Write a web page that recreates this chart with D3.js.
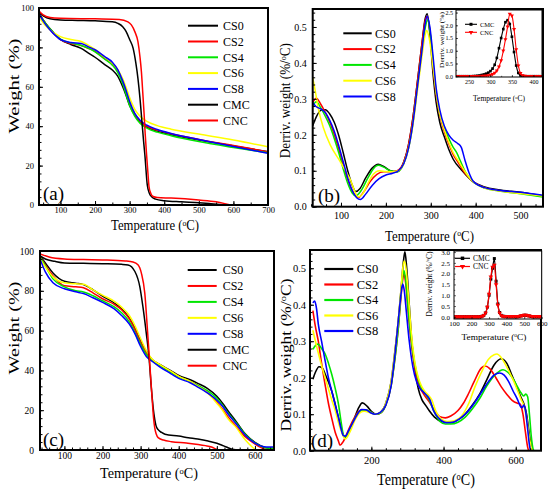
<!DOCTYPE html>
<html><head><meta charset="utf-8">
<script src="https://cdn.jsdelivr.net/npm/d3@7"></script>
<style>body{margin:0;background:#fff}svg{display:block}text{font-family:"Liberation Serif",serif}</style>
</head><body><svg id="c" width="550" height="493"></svg>
<script>
// ---------------- DATA ----------------
const names5 = ["CS0","CS2","CS4","CS6","CS8"];
const names7 = ["CS0","CS2","CS4","CS6","CS8","CMC","CNC"];
const insetNames = ["CMC","CNC"];
const colors7 = ["#000000","#ff0000","#00e600","#ffff00","#0000ff","#000000","#ff0000"];

// (a) TGA  [temperature, weight %]
const a_CS0=[[38,97],[50,94],[60,91.5],[80,87.5],[100,84],[130,81.5],[160,79.5],[180,77.2],[200,75],[228,71.3],[250,68.5],[265,65.5],[280,60],[290,55.5],[300,50.5],[315,45.5],[330,42],[350,39.5],[380,37.5],[420,35.7],[500,33],[600,30],[700,27]];
const a_CS2=[[38,97.5],[50,94],[60,91.5],[80,87],[100,84],[130,82],[160,81],[180,79.6],[200,78],[228,74.3],[250,71.5],[265,68.5],[280,62.5],[290,57],[300,51.5],[315,46],[330,42.5],[350,40],[380,38],[420,36.2],[500,33.3],[600,30.2],[700,27]];
const a_CS4=[[38,97],[50,94],[60,91.5],[80,87.5],[100,84.2],[130,82.3],[160,81],[180,79.6],[200,77.7],[228,74],[250,71],[265,67.5],[280,61.5],[290,56],[300,50.5],[315,45],[330,41.5],[350,39],[380,37],[420,35.2],[500,32.2],[600,29.2],[700,26.5]];
const a_CS6=[[38,95.5],[50,92.5],[60,90.5],[80,87.5],[100,85.5],[130,84],[160,83],[180,81.2],[200,79],[228,75],[250,72],[265,69],[280,64],[290,59.5],[300,54.5],[315,48.5],[330,45],[350,42.5],[380,40.3],[420,38.5],[500,36],[600,33],[700,29.5]];
const a_CS8=[[38,97],[50,93.5],[60,91],[80,87],[100,84],[130,82.5],[160,82],[180,80.4],[200,78.8],[228,75.3],[250,72.5],[266,68.6],[280,63],[290,58],[300,52.5],[315,46.5],[330,43],[350,40.5],[380,38.3],[420,36.3],[500,33.3],[600,29.7],[700,26.2]];
const a_CMC=[[38,97.5],[50,96],[70,94.5],[100,93.9],[150,93.7],[200,93.5],[250,93],[266,92.2],[280,90.5],[290,88],[300,84],[310,79.6],[318,72],[324,64.3],[330,54],[334,45.7],[340,33],[344,25.5],[351,10.2],[357,6],[363,4.3],[375,3],[400,2.2],[450,1.6],[500,1.1],[530,0.7],[560,0.2],[580,0]];
const a_CNC=[[38,98.5],[50,96.5],[70,95.2],[100,94.8],[200,94.5],[270,94.2],[295,93],[305,91.4],[315,88],[324,82.9],[330,75],[334,67.7],[338,57],[342,45.7],[345,36],[349,25.5],[353,16],[356,9.4],[361,6],[368,4.3],[380,3.8],[420,3.5],[500,2.5],[550,1.6],[575,0.7],[592,0]];

// (b) DTG  [temperature, deriv. weight]
const b_CS0=[[37,0.225],[45,0.25],[55,0.268],[65,0.27],[75,0.258],[85,0.235],[95,0.198],[105,0.15],[115,0.1],[125,0.06],[133,0.042],[142,0.05],[155,0.08],[170,0.108],[183,0.118],[195,0.112],[210,0.1],[225,0.097],[240,0.125],[250,0.17],[260,0.245],[270,0.345],[280,0.45],[287,0.52],[292,0.537],[298,0.48],[305,0.37],[312,0.29],[320,0.235],[330,0.195],[340,0.16],[350,0.132],[370,0.1],[392,0.072],[420,0.055],[450,0.047],[500,0.04],[550,0.03]];
const b_CS2=[[37,0.29],[45,0.302],[55,0.285],[65,0.262],[75,0.235],[85,0.2],[95,0.16],[105,0.115],[115,0.075],[125,0.045],[138,0.025],[150,0.04],[165,0.07],[180,0.09],[195,0.097],[210,0.097],[225,0.1],[240,0.125],[250,0.17],[260,0.245],[270,0.345],[280,0.45],[287,0.515],[292,0.53],[298,0.49],[305,0.39],[312,0.31],[320,0.255],[330,0.21],[340,0.175],[350,0.145],[360,0.125],[375,0.095],[392,0.072],[420,0.053],[450,0.045],[500,0.038],[550,0.03]];
const b_CS4=[[37,0.28],[45,0.292],[55,0.275],[65,0.252],[75,0.225],[85,0.19],[95,0.15],[105,0.105],[115,0.065],[125,0.038],[133,0.03],[145,0.045],[160,0.08],[172,0.105],[183,0.115],[195,0.11],[210,0.1],[225,0.097],[240,0.12],[250,0.16],[260,0.23],[270,0.33],[280,0.43],[288,0.5],[293,0.52],[299,0.48],[306,0.39],[313,0.31],[320,0.26],[330,0.22],[340,0.19],[350,0.165],[358,0.15],[365,0.13],[378,0.095],[392,0.072],[420,0.052],[450,0.044],[500,0.036],[550,0.027]];
const b_CS6=[[37,0.36],[43,0.32],[50,0.27],[61,0.219],[76,0.172],[98,0.126],[110,0.1],[121,0.075],[130,0.045],[138,0.027],[148,0.035],[160,0.065],[172,0.09],[185,0.1],[200,0.098],[215,0.097],[228,0.1],[240,0.12],[250,0.16],[260,0.225],[270,0.32],[280,0.415],[287,0.475],[291,0.49],[297,0.465],[305,0.39],[312,0.32],[320,0.26],[330,0.215],[340,0.18],[350,0.15],[360,0.13],[375,0.1],[392,0.072],[420,0.052],[450,0.044],[500,0.037],[550,0.03]];
const b_CS8=[[37,0.29],[45,0.278],[55,0.272],[65,0.262],[75,0.24],[85,0.21],[95,0.17],[105,0.125],[115,0.08],[125,0.045],[135,0.025],[143,0.02],[155,0.035],[170,0.06],[185,0.078],[200,0.088],[215,0.093],[228,0.1],[240,0.12],[250,0.16],[260,0.23],[270,0.33],[280,0.43],[287,0.505],[292,0.53],[298,0.5],[305,0.42],[312,0.33],[320,0.27],[330,0.225],[340,0.2],[350,0.185],[360,0.176],[368,0.165],[376,0.13],[385,0.095],[395,0.07],[420,0.053],[450,0.046],[500,0.04],[550,0.032]];

// (b) inset: temperatures and values
const bi_T=[220,225,230,235,240,245,250,255,260,265,270,275,280,285,290,295,300,305,310,315,320,325,330,335,340,345,350,355,360,365,370,375,380,385,390,395,400,405,410,415,420];
const bi_CMC=[0,0,0,0,0,0,0,0,0.005,0.01,0.02,0.03,0.05,0.07,0.1,0.14,0.2,0.3,0.45,0.72,1.1,1.5,1.85,2.12,2.2,2.05,1.55,0.95,0.42,0.13,0.03,0.01,0,0,0,0,0,0,0,0,0];
const bi_CNC=[0,0,0,0,0,0,0,0,0,0,0,0,0.01,0.015,0.02,0.03,0.05,0.08,0.13,0.22,0.38,0.62,1.0,1.45,1.95,2.45,2.38,1.85,1.05,0.42,0.12,0.03,0.01,0,0,0,0,0,0,0,0];

// (c) TGA
const c_CS0=[[36,97.5],[50,94],[70,89],[100,84.8],[130,83.8],[150,83.1],[175,80.5],[200,77.3],[230,74],[250,71],[270,66.5],[285,61.5],[300,55],[315,49.5],[330,45.5],[350,43],[380,39.8],[400,37.5],[430,35.3],[450,33.5],[475,31],[500,27],[515,23.5],[530,19.5],[550,14.5],[575,8],[600,3.8],[625,1.4],[640,0.8],[650,0.7]];
const c_CS2=[[36,97.5],[50,93],[70,87.5],[100,82.5],[130,82],[150,81.5],[175,79],[200,76],[230,73.3],[250,70.5],[270,66],[285,60.5],[300,54],[315,49],[330,45.3],[350,42.8],[380,39.3],[400,37],[430,34.5],[450,32.5],[475,29],[500,24],[515,20.5],[530,16.5],[550,12],[575,6.5],[600,3],[615,1.3],[628,0.3],[640,0],[650,0]];
const c_CS4=[[36,97],[50,92.5],[70,86],[100,82],[130,80],[150,79.4],[175,77.5],[200,75],[230,72],[250,69],[270,64.5],[285,59],[300,53],[315,48],[330,45],[350,42.5],[380,39],[400,36.8],[430,34.5],[450,32.5],[475,29.8],[500,26],[515,22.5],[530,18.5],[550,13.8],[575,7.8],[600,3.6],[625,1.3],[640,0.9],[650,0.9]];
const c_CS6=[[36,96],[50,92],[70,87],[100,84],[130,83.5],[150,83.3],[175,80.5],[200,77.8],[230,74.8],[250,71.8],[270,67.7],[285,62.5],[300,56],[315,50],[330,45.7],[350,43],[380,39.5],[400,37],[430,34.5],[450,32],[475,28.8],[500,23.5],[515,20],[530,15.5],[550,11.5],[575,5],[590,2],[602,0.2],[610,0]];
const c_CS8=[[36,96],[50,89.5],[70,84],[100,81],[130,79.5],[150,78.6],[175,76.5],[200,74.2],[230,71],[250,67.6],[270,63.4],[285,58.5],[300,52],[315,47],[330,44.6],[350,41.8],[380,38.3],[400,36],[430,33.8],[450,31.6],[475,28.7],[500,25],[515,22],[530,18],[550,13.3],[575,7.3],[600,3.5],[620,1.8],[635,1.5],[650,1.5]];
const c_CMC=[[36,97.5],[50,96],[75,94.8],[100,94],[150,93.8],[200,93.6],[250,93.3],[267,93],[285,89.7],[298,82],[306,72],[315,58.5],[322,46.7],[328,31.5],[335,18],[340,12.5],[346,10.2],[355,8.8],[364,7.9],[400,7],[425,6.2],[450,5.5],[477,4.5],[500,3.4],[512,2.5],[525,1.5],[538,0.5],[550,0.1],[565,0]];
const c_CNC=[[36,98.5],[60,97],[100,96],[150,95.7],[200,95.5],[260,95],[280,94.5],[293,93.1],[302,88.9],[311,78.7],[318,60.2],[324,43.3],[330,26.4],[334,16],[337,11.2],[341,8],[346,6.2],[360,5],[381,4.2],[420,3.5],[451,2.8],[470,2.2],[486,1.5],[495,0.7],[502,0]];

// (d) DTG
const d_CS0=[[38,0.196],[45,0.215],[55,0.23],[63,0.228],[72,0.21],[90,0.164],[109,0.09],[118,0.055],[125,0.038],[135,0.045],[150,0.08],[165,0.118],[175,0.131],[188,0.122],[200,0.108],[212,0.1],[225,0.105],[240,0.13],[255,0.19],[265,0.27],[275,0.36],[283,0.45],[289,0.52],[293,0.545],[298,0.5],[305,0.4],[312,0.3],[320,0.23],[330,0.17],[340,0.14],[350,0.125],[360,0.11],[375,0.092],[395,0.08],[420,0.077],[440,0.085],[460,0.1],[480,0.125],[500,0.155],[520,0.195],[540,0.235],[560,0.252],[575,0.24],[590,0.205],[605,0.17],[615,0.145],[622,0.13],[630,0.1],[637,0.05],[645,0.005],[648,0]];
const d_CS2=[[38,0.384],[45,0.34],[53,0.3],[62,0.24],[72,0.18],[81,0.13],[90,0.09],[100,0.05],[109,0.026],[113,0.015],[122,0.025],[137,0.058],[150,0.085],[165,0.108],[175,0.112],[190,0.11],[205,0.102],[215,0.1],[228,0.105],[240,0.125],[255,0.18],[265,0.25],[275,0.34],[282,0.42],[287,0.47],[290,0.485],[295,0.46],[302,0.38],[310,0.3],[320,0.23],[330,0.185],[340,0.163],[350,0.148],[360,0.135],[375,0.11],[390,0.093],[405,0.09],[420,0.095],[440,0.11],[455,0.13],[468,0.154],[485,0.19],[505,0.227],[515,0.232],[528,0.225],[545,0.2],[560,0.175],[575,0.155],[590,0.138],[605,0.13],[612,0.128],[620,0.1],[627,0.05],[633,0.01],[636,0]];
const d_CS4=[[38,0.278],[45,0.288],[52,0.292],[62,0.28],[72,0.265],[81,0.24],[90,0.21],[100,0.17],[109,0.127],[116,0.08],[122,0.045],[127,0.037],[137,0.05],[150,0.08],[165,0.105],[177,0.112],[190,0.11],[205,0.102],[215,0.1],[228,0.105],[240,0.125],[255,0.18],[265,0.25],[275,0.34],[282,0.43],[287,0.48],[290,0.494],[295,0.47],[302,0.39],[310,0.31],[320,0.24],[330,0.195],[340,0.17],[350,0.155],[360,0.14],[375,0.105],[390,0.08],[405,0.073],[420,0.073],[440,0.078],[460,0.092],[480,0.115],[500,0.143],[520,0.178],[540,0.205],[555,0.218],[565,0.222],[578,0.215],[592,0.198],[605,0.175],[615,0.158],[622,0.15],[628,0.155],[633,0.148],[638,0.1],[643,0.04],[648,0.005],[650,0]];
const d_CS6=[[38,0.33],[45,0.3],[55,0.26],[63,0.23],[72,0.2],[81,0.17],[90,0.14],[100,0.11],[108,0.08],[118,0.05],[128,0.032],[140,0.05],[155,0.085],[170,0.105],[180,0.108],[195,0.105],[210,0.1],[225,0.105],[240,0.13],[255,0.19],[265,0.27],[275,0.36],[282,0.44],[287,0.5],[291,0.52],[296,0.5],[303,0.42],[310,0.33],[320,0.245],[330,0.2],[340,0.175],[350,0.16],[360,0.15],[367,0.14],[378,0.11],[392,0.088],[410,0.08],[430,0.082],[450,0.095],[470,0.13],[487,0.175],[505,0.215],[524,0.25],[540,0.263],[548,0.265],[560,0.255],[575,0.23],[590,0.2],[605,0.165],[615,0.14],[622,0.125],[630,0.09],[637,0.04],[644,0.005],[646,0]];
const d_CS8=[[38,0.405],[43,0.41],[48,0.39],[53,0.347],[62,0.3],[72,0.246],[81,0.2],[90,0.164],[100,0.125],[109,0.09],[116,0.06],[122,0.042],[128,0.04],[137,0.055],[146,0.072],[160,0.098],[173,0.113],[185,0.112],[198,0.104],[210,0.1],[225,0.105],[240,0.125],[255,0.18],[265,0.26],[274,0.35],[280,0.41],[285,0.45],[287,0.457],[291,0.44],[297,0.38],[305,0.3],[315,0.23],[325,0.19],[335,0.17],[345,0.16],[355,0.15],[362,0.14],[372,0.11],[388,0.088],[408,0.077],[425,0.078],[445,0.088],[465,0.105],[485,0.13],[505,0.16],[525,0.19],[540,0.207],[555,0.213],[568,0.207],[580,0.19],[592,0.165],[605,0.14],[614,0.12],[618,0.118],[622,0.125],[627,0.11],[633,0.06],[638,0.015],[641,0]];

// (d) inset
const di_T=[100,110,120,130,140,150,160,170,180,190,200,210,220,230,240,250,260,270,280,290,300,310,320,330,340,350,360,370,380,390,400,410,420,430,440,450,460,470,480,490,500,510,520,530,540,550,560,570,580,590,600];
const di_CMC=[0,0,0,0,0,0,0,0,0,0,0,0,0,0,0,0.01,0.03,0.07,0.18,0.45,1.0,1.75,2.25,2.7,1.65,0.6,0.2,0.07,0.03,0.02,0.01,0.01,0.01,0.01,0.01,0.01,0.01,0.02,0.04,0.06,0.07,0.07,0.06,0.04,0.02,0.01,0.01,0.01,0.01,0.01,0.01];
const di_CNC=[0,0,0,0,0,0,0,0,0,0,0,0,0,0,0,0,0.03,0.07,0.18,0.45,1.05,1.85,2.3,2.4,1.5,0.55,0.18,0.06,0.03,0.02,0.02,0.02,0.02,0.02,0.02,0.02,0.02,0.03,0.05,0.07,0.08,0.08,0.07,0.05,0.03,0.02,0.02,0.02,0.02,0.02,0.02];

// tick labels
const tgaYTicks=[0,20,40,60,80,100];
const dtgYTicks=[0,0.1,0.2,0.3,0.4,0.5];
const aXTicks=[100,200,300,400,500,600,700];
const bXTicks=[100,200,300,400,500];
const cXTicks=[100,200,300,400,500,600];
const dXTicks=[200,400,600];
const biXTicks=[250,300,350,400];
const biYTicks=[0,0.5,1.0,1.5,2.0,2.5];
const diXTicks=[100,200,300,400,500,600];
const diYTicks=[0,0.5,1.0,1.5,2.0,2.5,3.0];

// ---------------- DRAW ----------------
const FONT='Liberation Serif';
const svg=d3.select("#c").attr("font-family",FONT);
let clipN=0;

// axis title; squeezed/stretched along its direction with a scale transform
function title(g,pre,sup,post,x,y,fs,len,rot){
  const base=rot?`translate(${x},${y}) rotate(-90)`:`translate(${x},${y})`;
  const t=g.append("text").attr("font-family",FONT).attr("font-size",fs).attr("text-anchor","middle").attr("fill","#000")
    .attr("transform",base);
  t.append("tspan").text(pre);
  if(sup){
    t.append("tspan").attr("font-size",fs*0.6).attr("dy",-fs*0.3).text(sup);
    t.append("tspan").attr("dy",fs*0.3).text(post);
  }
  if(len){
    const nat=t.node().getComputedTextLength();
    if(nat>0) t.attr("transform",`${base} scale(${(len/nat).toFixed(4)},1)`);
  }
  return t;
}

function panel(p){
  const x=d3.scaleLinear().domain(p.xd).range([p.l,p.r]);
  const y=d3.scaleLinear().domain(p.yd).range([p.b,p.t]);
  const g=svg.append("g");
  g.append("rect").attr("x",p.l).attr("y",p.t).attr("width",p.r-p.l).attr("height",p.b-p.t).attr("fill","#fff");
  const cid="clip"+(clipN++);
  svg.append("clipPath").attr("id",cid).append("rect").attr("x",p.l).attr("y",p.t-2).attr("width",p.r-p.l).attr("height",p.b-p.t+2);
  const line=d3.line().x(d=>x(d[0])).y(d=>y(d[1])).curve(d3.curveMonotoneX);
  const lg=g.append("g").attr("clip-path",`url(#${cid})`);
  p.series.forEach(s=>{
    lg.append("path").attr("d",line(s.data)).attr("fill","none").attr("stroke",s.color)
      .attr("stroke-width",p.lw).attr("stroke-linejoin","round");
    if(s.marker){
      const sym=d3.symbol().type(s.marker==="sq"?d3.symbolSquare:d3.symbolTriangle).size(p.ms);
      lg.selectAll(null).data(s.data).join("path").attr("d",sym)
        .attr("transform",d=>`translate(${x(d[0])},${y(d[1])})${s.marker==="tri"?" rotate(180)":""}`)
        .attr("fill",s.color);
    }
  });
  const gxm=g.append("g").attr("transform",`translate(0,${p.b})`)
    .call(d3.axisBottom(x).tickValues(p.xMinor).tickSize(-p.minor).tickFormat(""));
  gxm.select(".domain").remove();
  const gym=g.append("g").attr("transform",`translate(${p.l},0)`)
    .call(d3.axisLeft(y).tickValues(p.yMinor).tickSize(-p.minor).tickFormat(""));
  gym.select(".domain").remove();
  const gx=g.append("g").attr("transform",`translate(0,${p.b})`)
    .call(d3.axisBottom(x).tickValues(p.xTicks).tickSize(-p.major).tickPadding(p.xpad).tickFormat(p.xf||d3.format("d")));
  gx.select(".domain").remove();
  gx.attr("font-family",FONT).attr("font-size",p.tfs);
  const gy=g.append("g").attr("transform",`translate(${p.l},0)`)
    .call(d3.axisLeft(y).tickValues(p.yTicks).tickSize(-p.major).tickPadding(p.ypad).tickFormat(p.yf||d3.format("d")));
  gy.select(".domain").remove();
  gy.attr("font-family",FONT).attr("font-size",p.tfs);
  g.selectAll(".tick line").attr("stroke","#000").attr("stroke-width",p.tickW||1);
  g.append("rect").attr("x",p.l).attr("y",p.t).attr("width",p.r-p.l).attr("height",p.b-p.t)
    .attr("fill","none").attr("stroke","#000").attr("stroke-width",p.frameW);
  return {x,y,g};
}

function legend(names,colors,x1,x2,tx,y0,dy,fs,lw){
  names.forEach((n,i)=>{
    const yy=y0+i*dy;
    svg.append("line").attr("x1",x1).attr("x2",x2).attr("y1",yy).attr("y2",yy).attr("stroke",colors[i]).attr("stroke-width",lw);
    svg.append("text").attr("font-family",FONT).attr("x",tx).attr("y",yy+fs*0.35).attr("font-size",fs).text(n);
  });
}

function rng(a,b,s){const o=[];for(let v=a;v<=b+1e-9;v+=s)o.push(+v.toFixed(4));return o;}
const f1=d3.format(".1f");

// ---- Panel (a)
const sa=[a_CS0,a_CS2,a_CS4,a_CS6,a_CS8,a_CMC,a_CNC];
panel({l:39,r:268,t:8,b:205,xd:[38,700],yd:[0,100],lw:1.5,frameW:2,
  series:sa.map((d,i)=>({data:d,color:colors7[i]})),
  xTicks:aXTicks,yTicks:tgaYTicks,xMinor:rng(50,700,50),yMinor:rng(0,100,4),
  major:4,minor:2.5,xpad:2,ypad:5,tfs:8.5});
legend(names7,colors7,188,218,223,25.7,15.8,12,2);
title(svg,"Temperature (","o","C)",155,230,14,88,false);
title(svg,"Weight (%)",null,null,18.5,86,14,95,true);
svg.append("text").attr("font-family",FONT).attr("x",43).attr("y",200).attr("font-size",19).text("(a)");

// ---- Panel (b)
const sb=[b_CS0,b_CS2,b_CS4,b_CS6,b_CS8];
panel({l:312.7,r:543,t:9,b:206.7,xd:[37,550],yd:[0,0.55],lw:1.5,frameW:2,
  series:sb.map((d,i)=>({data:d,color:colors7[i]})),
  xTicks:bXTicks,yTicks:dtgYTicks,xMinor:rng(100/3,550,100/3),yMinor:rng(0,0.54,0.02),
  major:4,minor:2.5,xpad:5,ypad:6,tfs:10,yf:f1});
legend(names5,colors7,343.3,371.7,375,33.3,15.8,12,2);
title(svg,"Temperature (","o","C)",429.5,240.5,14.5,89,false);
title(svg,"Derriv. weight (%/","o","C)",290,100.7,14,115,true);
svg.append("text").attr("font-family",FONT).attr("x",318).attr("y",202).attr("font-size",19).text("(b)");
// inset (b)
panel({l:456,r:542,t:10,b:77,xd:[220,420],yd:[-0.03,2.6],lw:1.1,frameW:1,ms:7,
  series:[{data:bi_T.map((t,i)=>[t,bi_CMC[i]]),color:"#000",marker:"sq"},
          {data:bi_T.map((t,i)=>[t,bi_CNC[i]]),color:"#ff0000",marker:"tri"}],
  xTicks:biXTicks,yTicks:biYTicks,xMinor:rng(225,420,25),yMinor:rng(0,2.5,0.25),
  major:2,minor:1.2,xpad:2.5,ypad:3,tfs:6,yf:f1,tickW:0.6});
[["#000","sq",24.3],["#ff0000","tri",32.3]].forEach((m,i)=>{
  svg.append("line").attr("x1",465).attr("x2",477).attr("y1",m[2]).attr("y2",m[2]).attr("stroke",m[0]).attr("stroke-width",1.1);
  svg.append("path").attr("d",d3.symbol().type(m[1]==="sq"?d3.symbolSquare:d3.symbolTriangle).size(9)())
    .attr("transform",`translate(471,${m[2]})${m[1]==="tri"?" rotate(180)":""}`).attr("fill",m[0]);
  svg.append("text").attr("font-family",FONT).attr("x",480).attr("y",m[2]+2.3).attr("font-size",6.5).text(insetNames[i]);
});
title(svg,"Temperature (","o","C)",499,101,7.5,52,false);
title(svg,"Derriv. weight (%)",null,null,444,40,6.5,56,true);

// ---- Panel (c)
const sc=[c_CS0,c_CS2,c_CS4,c_CS6,c_CS8,c_CMC,c_CNC];
panel({l:40,r:274,t:251,b:450,xd:[36,650],yd:[0,100],lw:1.5,frameW:2,
  series:sc.map((d,i)=>({data:d,color:colors7[i]})),
  xTicks:cXTicks,yTicks:tgaYTicks,xMinor:rng(40,640,20),yMinor:rng(0,100,4),
  major:4,minor:2.5,xpad:2,ypad:6,tfs:9.5});
legend(names7,colors7,187.7,216.7,222.7,270,15.95,12,2);
title(svg,"Temperature (","o","C)",149,478,15,98,false);
title(svg,"Weight (%)",null,null,18.5,328,14,93,true);
svg.append("text").attr("font-family",FONT).attr("x",43).attr("y",446).attr("font-size",19).text("(c)");

// ---- Panel (d)
const sd=[d_CS0,d_CS2,d_CS4,d_CS6,d_CS8];
panel({l:310,r:541,t:250,b:450.7,xd:[30,670],yd:[0,0.55],lw:1.6,frameW:2,
  series:sd.map((d,i)=>({data:d,color:colors7[i]})),
  xTicks:dXTicks,yTicks:dtgYTicks,xMinor:rng(40,640,40),yMinor:rng(0,0.54,0.02),
  major:4,minor:2.5,xpad:5.5,ypad:4,tfs:10.5,yf:f1});
legend(names5,colors7,324.3,353.3,356.7,269,15.5,12.5,2.2);
title(svg,"Temperature (","o","C)",426,484.5,16,98,false);
title(svg,"Derriv. weight (%/","o","C)",290.5,355,15,153,true);
svg.append("text").attr("font-family",FONT).attr("x",311).attr("y",447).attr("font-size",19).text("(d)");
// inset (d)
panel({l:454,r:541.7,t:251,b:319,xd:[100,600],yd:[-0.1,3.05],lw:1.2,frameW:1,ms:9,
  series:[{data:di_T.map((t,i)=>[t,di_CMC[i]]),color:"#000",marker:"sq"},
          {data:di_T.map((t,i)=>[t,di_CNC[i]]),color:"#ff0000",marker:"tri"}],
  xTicks:diXTicks,yTicks:diYTicks,xMinor:rng(150,550,100),yMinor:rng(0.25,3,0.5),
  major:2,minor:1.2,xpad:2.5,ypad:4,tfs:7,yf:f1,tickW:0.6});
[["#000","sq",258.3],["#ff0000","tri",266.5]].forEach((m,i)=>{
  svg.append("line").attr("x1",455).attr("x2",470).attr("y1",m[2]).attr("y2",m[2]).attr("stroke",m[0]).attr("stroke-width",1.2);
  svg.append("path").attr("d",d3.symbol().type(m[1]==="sq"?d3.symbolSquare:d3.symbolTriangle).size(12)())
    .attr("transform",`translate(462.5,${m[2]})${m[1]==="tri"?" rotate(180)":""}`).attr("fill",m[0]);
  svg.append("text").attr("font-family",FONT).attr("x",473).attr("y",m[2]+2.8).attr("font-size",7.5).text(insetNames[i]);
});
title(svg,"Temperature (","o","C)",494,340,9,65,false);
title(svg,"Derriv. weight (%/","o","C)",431.5,284,7.5,65,true);
</script></body></html>
